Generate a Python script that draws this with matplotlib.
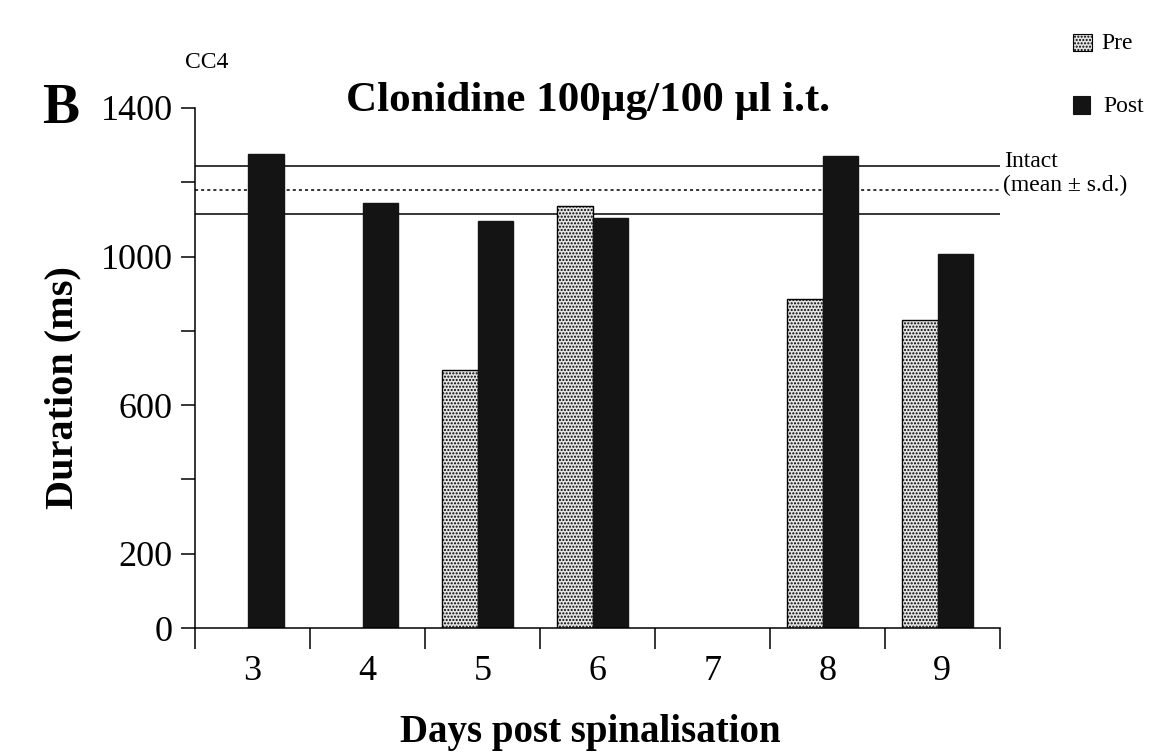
import numpy as np
import matplotlib.pyplot as plt

plt.rcParams['font.family'] = ['Liberation Serif', 'DejaVu Serif']

days = [3, 4, 5, 6, 7, 8, 9]
pre = [np.nan, np.nan, 695, 1135, np.nan, 885, 828]
post = [1275, 1145, 1095, 1105, np.nan, 1270, 1008]

# intact animals, mean +/- s.d.
intact_mean = 1180
intact_sd = 65

days = np.array(days)
pre = np.array(pre, dtype=float)
post = np.array(post, dtype=float)

fig = plt.figure(figsize=(11.65, 7.53), dpi=100)
ax = fig.add_axes([0.1674, 0.166, 0.6906, 0.6906])

w = 0.31
off = -0.04
m = ~np.isnan(pre)
ax.bar(days[m] + off - w, pre[m], width=w, align='edge', facecolor='#e4e4e4',
       edgecolor='black', linewidth=1.0, hatch='.....', zorder=2)
m = ~np.isnan(post)
ax.bar(days[m] + off, post[m], width=w, align='edge', facecolor='#141414',
       edgecolor='#141414', linewidth=1.0, zorder=2)

ax.axhline(intact_mean + intact_sd, color='black', lw=1.1, zorder=1)
ax.axhline(intact_mean, color='black', lw=1.1, ls=(0, (2, 2)), zorder=1)
ax.axhline(intact_mean - intact_sd, color='black', lw=1.1, zorder=1)

ax.set_xlim(2.5, 9.5)
ax.set_ylim(0, 1400)
for s in ['top', 'right']:
    ax.spines[s].set_visible(False)
ax.spines['left'].set_linewidth(1.1)
ax.spines['bottom'].set_linewidth(1.1)

ax.set_yticks(np.arange(0, 1401, 200))
ax.set_yticklabels(['0', '200', '', '600', '', '1000', '', '1400'], fontsize=26)
ax.tick_params(axis='y', length=10, width=1.1, pad=6)

ax.set_xticks(np.arange(2.5, 9.6, 1))
ax.set_xticklabels([])
ax.tick_params(axis='x', length=15, width=1.1)
for d in days:
    ax.text(d, -118, str(d), ha='center', va='center', fontsize=26)

fig.text(0.054, 0.485, 'Duration (ms)', fontsize=29, fontweight='bold',
         rotation=90, ha='center', va='center')
fig.text(0.507, 0.027, 'Days post spinalisation', fontsize=28, fontweight='bold',
         ha='center', va='center')
fig.text(0.505, 0.866, 'Clonidine 100µg/100 µl i.t.', fontsize=31, fontweight='bold',
         ha='center', va='center')

fig.text(0.052, 0.855, 'B', fontsize=40, fontweight='bold', ha='center', va='center')
fig.text(0.159, 0.917, 'CC4', fontsize=17, va='center')

# legend patches
fig.patches.append(plt.Rectangle((0.921, 0.932), 0.016, 0.023, transform=fig.transFigure,
                                 facecolor='#e4e4e4', edgecolor='black', hatch='.....', lw=0.8))
fig.text(0.945, 0.942, 'Pre', fontsize=17, va='center')
fig.patches.append(plt.Rectangle((0.921, 0.848), 0.015, 0.025, transform=fig.transFigure,
                                 facecolor='#141414', edgecolor='#141414', lw=0.8))
fig.text(0.947, 0.859, 'Post', fontsize=17, va='center')

fig.text(0.862, 0.785, 'Intact', fontsize=17, va='center')
fig.text(0.861, 0.754, '(mean ± s.d.)', fontsize=17, va='center')

plt.savefig('out.png', dpi=100)
